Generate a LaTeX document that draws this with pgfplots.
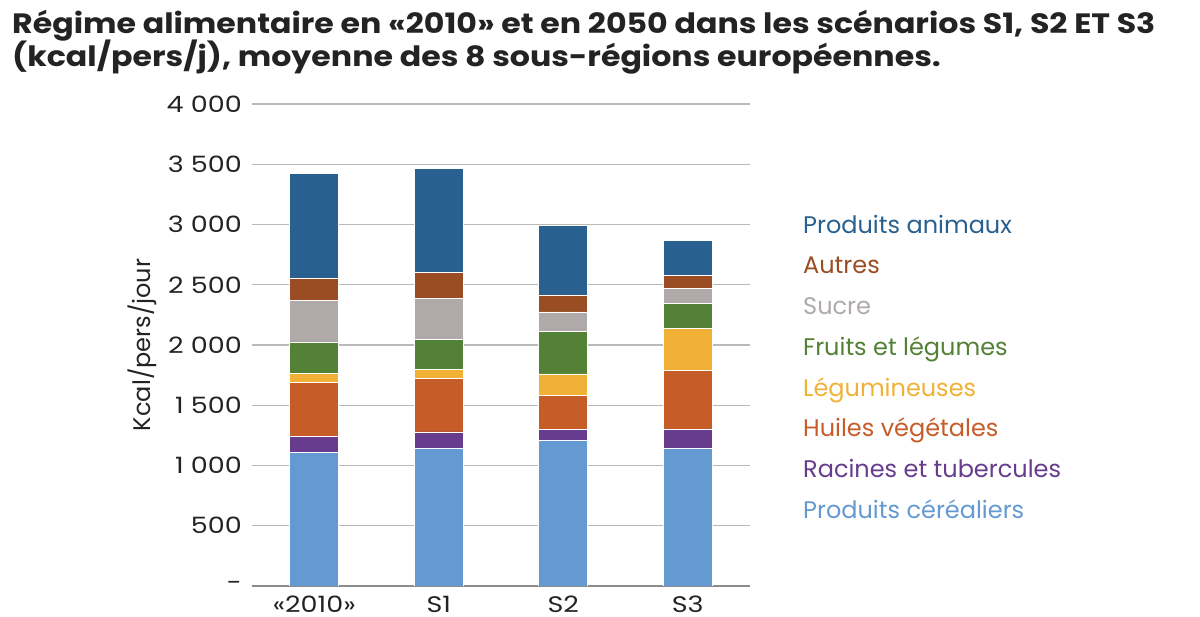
\documentclass[border=0pt]{standalone}
\usepackage{pgfplots}
\pgfplotsset{compat=1.18}
\usepackage{pgfplotstable}
\usepackage{fontspec}
\setmainfont{Poppins}
\newfontfamily\titlefont{Poppins}[FakeStretch=1.13]
\newfontfamily\tickfont{Poppins}[FakeStretch=1.2]
\definecolor{cAni}{RGB}{40,96,143}
\definecolor{cAut}{RGB}{154,77,34}
\definecolor{cSuc}{RGB}{176,169,169}
\definecolor{cFru}{RGB}{83,129,53}
\definecolor{cLeg}{RGB}{240,177,54}
\definecolor{cHui}{RGB}{198,93,41}
\definecolor{cRac}{RGB}{103,60,143}
\definecolor{cCer}{RGB}{100,153,209}
\definecolor{cGrid}{RGB}{185,185,185}
\definecolor{cTxt}{RGB}{35,35,35}

\pgfplotstableread{
x cer roo oil leg fru suc aut ani
0 1105 135 451 74 260 348 183 864
1 1140 138 446 76 248 339 216 865
2 1205 95 282 178 353 161 141 580
3 1140 160 487 354 204 121 112 289
}\data

\begin{document}
\begin{tikzpicture}[x=1pt,y=1pt]
\useasboundingbox (0,0) rectangle (1200,617);
\node[anchor=base west, inner sep=0, text=cTxt, font=\titlefont\fontsize{28}{28}\selectfont\bfseries] at (12,583) {Régime alimentaire en «2010» et en 2050 dans les scénarios S1, S2 ET S3};
\node[anchor=base west, inner sep=0, text=cTxt, font=\titlefont\fontsize{28}{28}\selectfont\bfseries] at (12,550) {(kcal/pers/j), moyenne des 8 sous-régions européennes.};
\begin{axis}[
  at={(252pt,31pt)}, anchor=south west,
  scale only axis, width=498pt, height=482pt,
  ybar stacked, bar width=49pt,
  xmin=-0.5, xmax=3.5, ymin=0, ymax=4000,
  xtick={0,1,2,3}, xticklabels={«2010»,S1,S2,S3},
  ytick={0,500,...,4000},
  yticklabels={-\hspace{29pt},500,1 000,1 500,2 000,2 500,3 000,3 500,4 000},
  major tick length=0pt,
  axis line style={draw=none},
  ymajorgrids, grid style={cGrid, line width=1.3pt},
  extra y ticks={0}, extra y tick labels={},
  extra y tick style={grid style={black!45, line width=1.5pt}},
  tick label style={font=\tickfont\fontsize{22.5}{22.5}\selectfont, text=cTxt},
  yticklabel style={inner sep=0pt, xshift=-10pt},
  xticklabel style={inner sep=0pt, yshift=-10pt},
  ylabel={Kcal/pers/jour},
  every axis y label/.style={at={(axis description cs:-0.221,0.5)}, rotate=90, anchor=center, font=\fontsize{24}{24}\selectfont, text=cTxt},
  every axis plot/.append style={draw=white, line width=0.8pt},
  legend image code/.code={},
  reverse legend,
  legend cell align=left,
  legend style={at={(axis description cs:1.1064,0.7676)}, anchor=north west, draw=none, fill=none, inner sep=0pt,
    font=\fontsize{24}{24}\selectfont, row sep=17.7pt,
    nodes={inner sep=0pt, text height=17pt, text depth=6pt}},
]
\addplot[fill=cCer] table[x=x,y=cer]{\data};
\addplot[fill=cRac] table[x=x,y=roo]{\data};
\addplot[fill=cHui] table[x=x,y=oil]{\data};
\addplot[fill=cLeg] table[x=x,y=leg]{\data};
\addplot[fill=cFru] table[x=x,y=fru]{\data};
\addplot[fill=cSuc] table[x=x,y=suc]{\data};
\addplot[fill=cAut] table[x=x,y=aut]{\data};
\addplot[fill=cAni] table[x=x,y=ani]{\data};
\legend{\textcolor{cCer}{Produits céréaliers},\textcolor{cRac}{Racines et tubercules},\textcolor{cHui}{Huiles végétales},\textcolor{cLeg}{Légumineuses},\textcolor{cFru}{Fruits et légumes},\textcolor{cSuc}{Sucre},\textcolor{cAut}{Autres},\textcolor{cAni}{Produits animaux}}
\end{axis}
\end{tikzpicture}
\end{document}
